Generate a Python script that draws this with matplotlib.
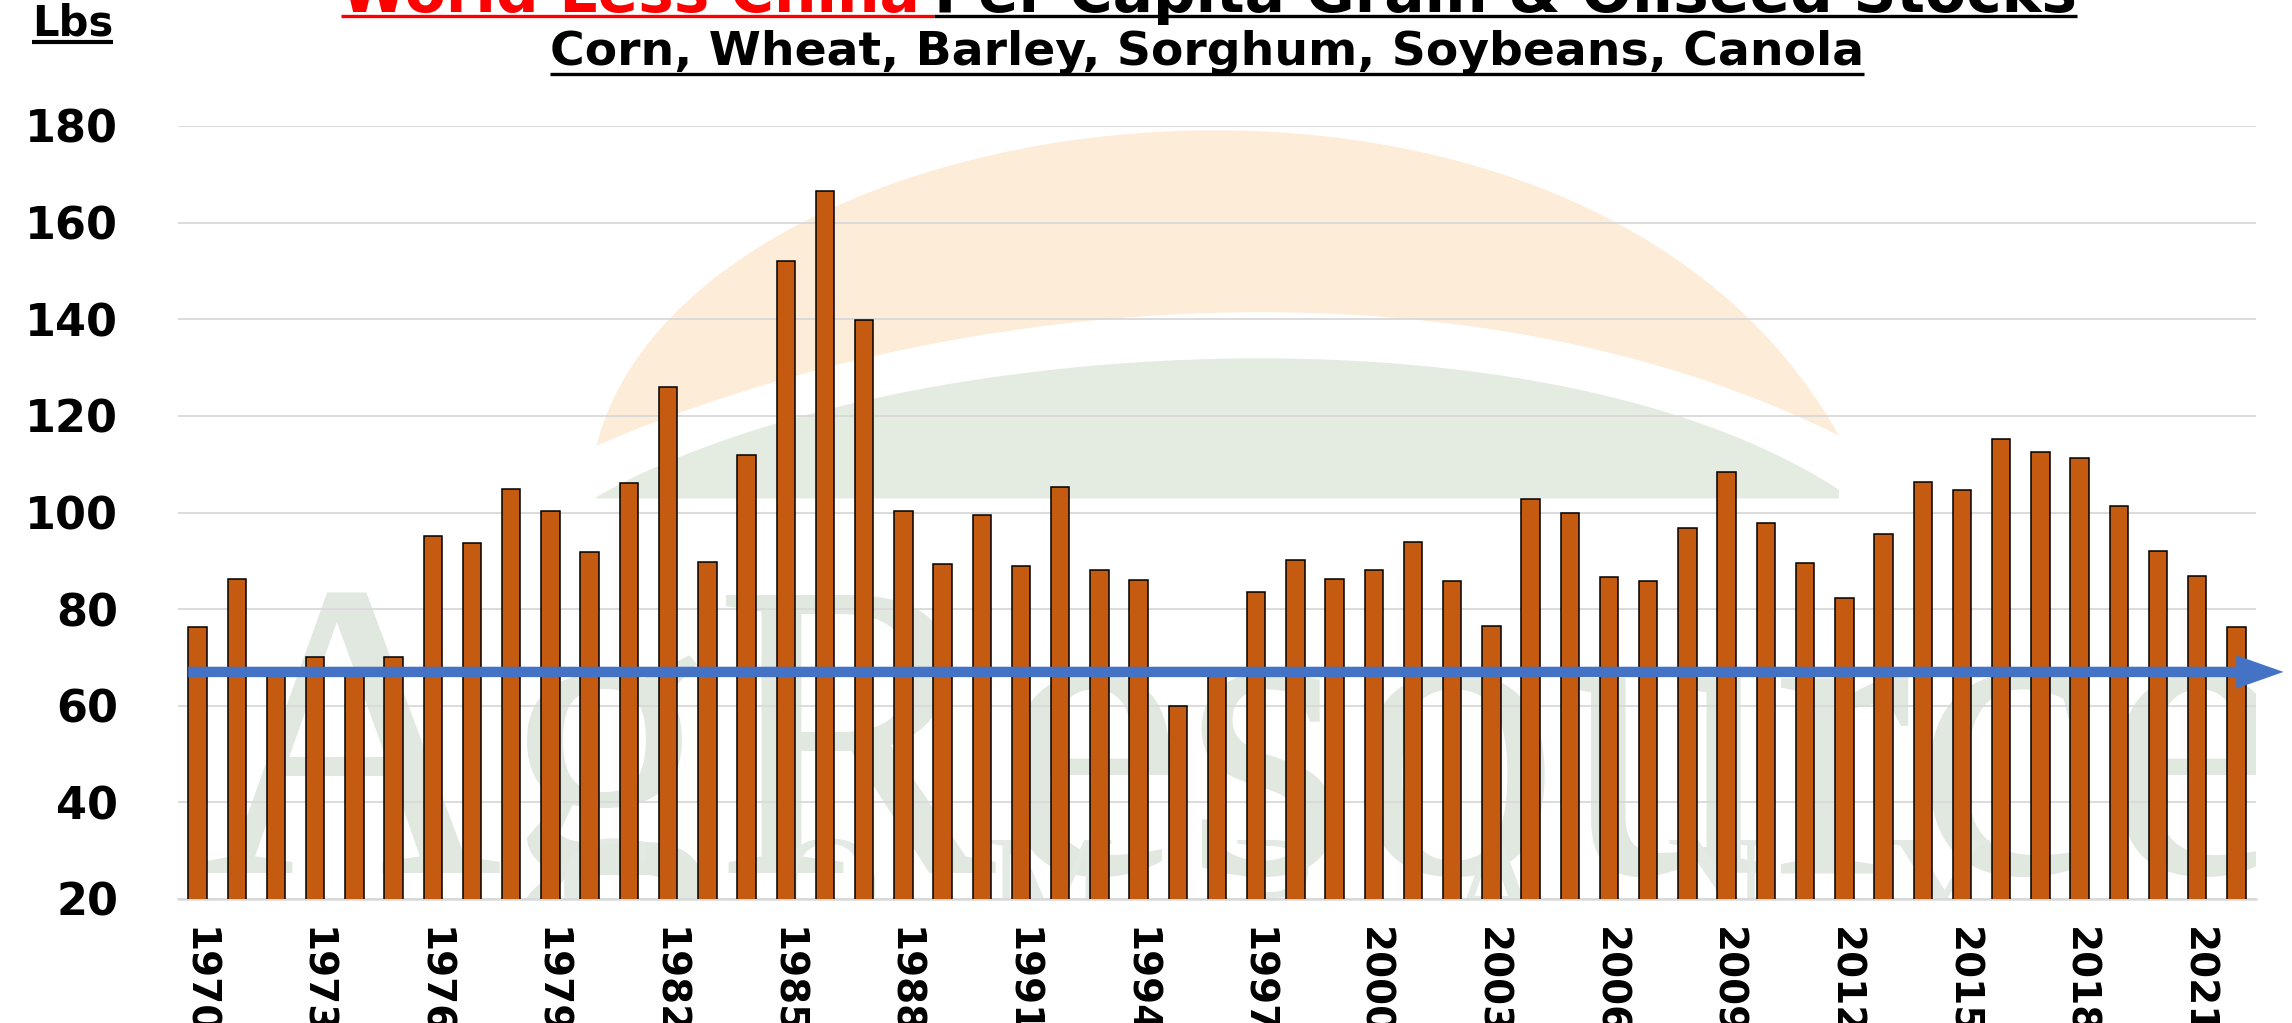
import numpy as np
import matplotlib
matplotlib.use("Agg")
import matplotlib.pyplot as plt
from matplotlib.lines import Line2D
from matplotlib.patches import Polygon
from matplotlib.transforms import IdentityTransform

# data (lbs per capita, world less China)
years = list(range(1970, 2023))
stocks = [76.3, 86.3, 66.1, 70.0, 67.0, 70.0, 95.2, 93.6, 104.9, 100.3,
          91.8, 106.1, 126.0, 89.7, 111.8, 152.1, 166.6, 139.9, 100.3, 89.4,
          99.4, 88.9, 105.2, 88.2, 86.0, 60.0, 66.2, 83.6, 90.2, 86.3,
          88.2, 93.9, 85.8, 76.6, 102.8, 100.0, 86.6, 85.8, 96.7, 108.3,
          97.9, 89.6, 82.4, 95.5, 106.4, 104.6, 115.2, 112.5, 111.3, 101.3,
          92.1, 86.9, 76.3]
trend_level = 67.0
tick_years = list(range(1970, 2022, 3))
y_ticks = list(range(20, 181, 20))

title_red = "World Less China"
title_black = "Per Capita Grain & Oilseed Stocks"
subtitle = "Corn, Wheat, Barley, Sorghum, Soybeans, Canola"
unit_label = "Lbs"

W, H = 2292, 1023
fig = plt.figure(figsize=(W / 100, H / 100), dpi=100)
fig.patch.set_facecolor("white")

# axes box in pixels
ax_l, ax_r, ax_t, ax_b = 178, 2256, 126, 899
ax = fig.add_axes([ax_l / W, (H - ax_b) / H, (ax_r - ax_l) / W, (ax_b - ax_t) / H])
ax.set_facecolor("white")

x = np.arange(len(years))
ax.set_xlim(-0.5, len(years) - 0.5)
ax.set_ylim(20, 180)


# faint logo watermark (shape coords are in the shrunk 1568 px picture)
def to_axes(pts):
    s = W / 1568
    pts = np.asarray(pts, float) * s
    return np.column_stack([(pts[:, 0] - ax_l) / (ax_r - ax_l),
                            (ax_b - pts[:, 1]) / (ax_b - ax_t)])


def bez(p0, p1, p2, p3, n=80):
    t = np.linspace(0, 1, n)[:, None]
    p0, p1, p2, p3 = map(np.array, (p0, p1, p2, p3))
    return (1 - t) ** 3 * p0 + 3 * (1 - t) ** 2 * t * p1 + 3 * (1 - t) * t ** 2 * p2 + t ** 3 * p3


outer = bez((408, 305), (470, 60), (1080, -20), (1258, 298))
inner = bez((1258, 298), (1000, 170), (650, 200), (408, 305))
ax.add_patch(Polygon(to_axes(np.vstack([outer, inner])), closed=True,
                     transform=ax.transAxes, facecolor="#fdecd8", edgecolor="none", zorder=0))
dome = bez((408, 340), (600, 230), (1050, 200), (1258, 335))
dome = np.vstack([dome, [(1258, 341), (408, 341)]])
ax.add_patch(Polygon(to_axes(dome), closed=True, transform=ax.transAxes,
                     facecolor="#e4ebe1", edgecolor="none", zorder=0))

wx, wy = to_axes([(135, 597)])[0]
ax.text(wx, wy, "AgResource", transform=ax.transAxes, family="Liberation Serif",
        fontsize=305, color="#e0e8e0", ha="left", va="baseline", zorder=0, clip_on=True)
for i, ch in enumerate("COMPANY"):
    cx, cy = to_axes([(415 + i * 152, 640)])[0]
    ax.text(cx, cy, ch, transform=ax.transAxes, family="Liberation Serif",
            fontsize=105, color="#e3eae3", ha="center", va="baseline", zorder=0, clip_on=True)

ax.grid(axis="y", color="#d9d9d9", linewidth=1.3, zorder=1)
ax.set_axisbelow(True)

ax.bar(x, stocks, width=0.47, color="#C55A11", edgecolor="black", linewidth=1.1, zorder=3)

ax.annotate("", xy=(53.2, trend_level), xytext=(-0.24, trend_level),
            arrowprops=dict(width=7.5, headwidth=24, headlength=34, color="#4472C4",
                            shrink=0, linewidth=0),
            annotation_clip=False, zorder=4)

for s in ["top", "left", "right"]:
    ax.spines[s].set_visible(False)
ax.spines["bottom"].set_color("#d9d9d9")
ax.spines["bottom"].set_linewidth(1.8)

ax.set_yticks(y_ticks)
ax.set_yticklabels([str(v) for v in y_ticks], fontsize=32, fontweight="bold",
                   family="DejaVu Sans")
ax.set_xticks([years.index(y) for y in tick_years])
ax.set_xticklabels([str(y) for y in tick_years], rotation=-90, fontsize=28,
                   fontweight="bold", family="DejaVu Sans", va="top", ha="center")
ax.tick_params(axis="y", length=0, pad=43)
ax.tick_params(axis="x", length=0, pad=20)

# titles
fig.canvas.draw()
r = fig.canvas.get_renderer()

t1 = fig.text(0, (H - 12) / H, title_red, color="#FF0000", fontsize=43,
              fontweight="bold", va="baseline", ha="left")
t2 = fig.text(0, (H - 12) / H, title_black, color="black", fontsize=43,
              fontweight="bold", va="baseline", ha="left")
w1 = t1.get_window_extent(r).width
w2 = t2.get_window_extent(r).width
gap = 15
x0 = 1209 - (w1 + gap + w2) / 2
t1.set_x(x0 / W)
t2.set_x((x0 + w1 + gap) / W)

t3 = fig.text(1207 / W, (H - 65) / H, subtitle, fontsize=34, fontweight="bold",
              va="baseline", ha="center")
t4 = fig.text(32 / W, (H - 36) / H, unit_label, fontsize=30, fontweight="bold",
              va="baseline", ha="left")


def underline(x_a, x_b, y_px, color, lw=2.4):
    fig.add_artist(Line2D([x_a, x_b], [H - y_px, H - y_px], transform=IdentityTransform(),
                          color=color, linewidth=lw, solid_capstyle="butt"))


underline(x0, x0 + w1 + gap, 16, "#FF0000")
underline(x0 + w1 + gap, x0 + w1 + gap + w2, 16, "black")
bb = t3.get_window_extent(r)
underline(bb.x0, bb.x1, 74, "black")
bb = t4.get_window_extent(r)
underline(bb.x0, bb.x1, 42, "black", lw=3)

fig.savefig("out.png", dpi=100)
